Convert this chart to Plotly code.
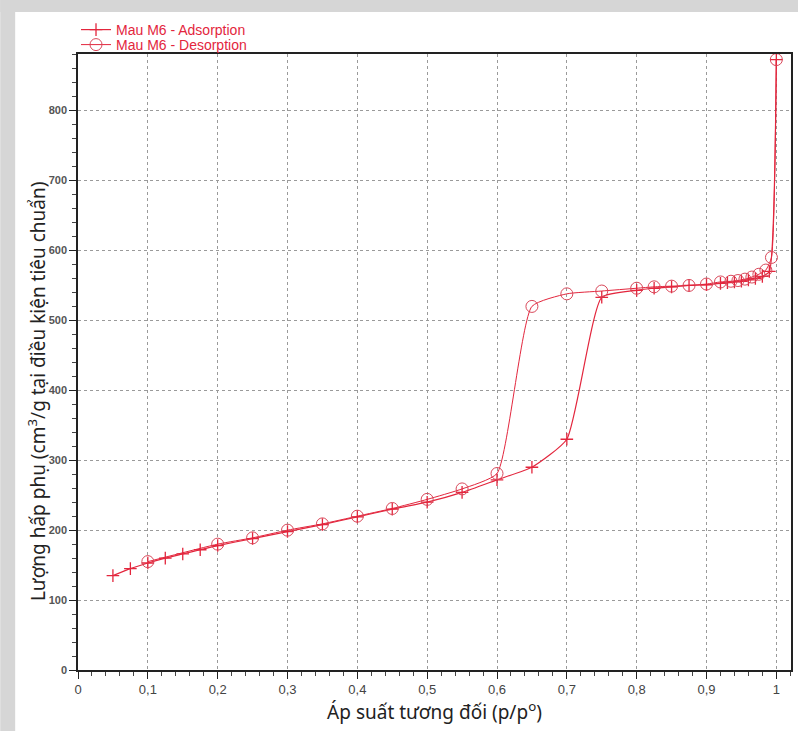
import plotly.graph_objects as go

# Nitrogen isotherm for sample M6: relative pressure vs. adsorbed volume
ads_p = [0.05, 0.075, 0.1, 0.125, 0.15, 0.175, 0.2, 0.25, 0.3, 0.35, 0.4, 0.45,
         0.5, 0.55, 0.6, 0.65, 0.7, 0.75, 0.8, 0.825, 0.85, 0.875, 0.9, 0.92,
         0.93, 0.94, 0.95, 0.96, 0.97, 0.98, 0.99, 1.0]
ads_v = [135, 145, 153, 160, 166, 172, 178, 188, 198, 208, 219, 230,
         240, 254, 272, 290, 330, 533, 543, 546, 548, 550, 551, 553,
         554, 555, 556, 558, 560, 563, 570, 873]

des_p = [0.1, 0.2, 0.25, 0.3, 0.35, 0.4, 0.45, 0.5, 0.55, 0.6, 0.65, 0.7,
         0.75, 0.8, 0.825, 0.85, 0.875, 0.9, 0.92, 0.935, 0.945, 0.955,
         0.965, 0.975, 0.985, 0.993, 1.0]
des_v = [155, 180, 189, 200, 209, 220, 231, 244, 259, 281, 520, 538,
         542, 546, 548, 549, 550, 552, 555, 556, 557, 559,
         562, 566, 572, 590, 873]

x_ticks = [0, 0.1, 0.2, 0.3, 0.4, 0.5, 0.6, 0.7, 0.8, 0.9, 1.0]
x_tick_text = ["0", "0,1", "0,2", "0,3", "0,4", "0,5", "0,6", "0,7", "0,8", "0,9", "1"]
y_ticks = [0, 100, 200, 300, 400, 500, 600, 700, 800]

RED = "#e3263d"
CIRCLE_RED = "#d9485a"

fig = go.Figure()
fig.add_trace(go.Scatter(
    x=ads_p, y=ads_v, name="Mau M6 - Adsorption", mode="lines+markers",
    legend="legend",
    line=dict(color=RED, width=1.2, shape="spline", smoothing=0.5),
    marker=dict(symbol="cross-thin-open", size=9, color=RED, line=dict(color=RED, width=1.3)),
))
fig.add_trace(go.Scatter(
    x=des_p, y=des_v, name="Mau M6 - Desorption", mode="lines+markers",
    legend="legend2",
    line=dict(color=RED, width=1.0, shape="spline", smoothing=0.5),
    marker=dict(symbol="circle-open", size=12, color=CIRCLE_RED,
                line=dict(color=CIRCLE_RED, width=1)),
))

L, R, T, B = 78, 7, 54, 61
W, H = 800, 731
pw, ph = W - L - R, H - T - B

def px_x(px):
    return (px - L) / pw

def px_y(py):
    return (H - B - py) / ph

# light grey frame along the left and top edges of the page
fig.add_shape(type="rect", xref="paper", yref="paper", layer="below",
              x0=px_x(0), x1=px_x(15), y0=px_y(H), y1=px_y(0),
              fillcolor="#d6d6d6", line_width=0)
fig.add_shape(type="rect", xref="paper", yref="paper", layer="below",
              x0=px_x(0), x1=px_x(W), y0=px_y(12), y1=px_y(0),
              fillcolor="#d6d6d6", line_width=0)

legend_font = dict(family="Arial, Liberation Sans", size=14, color=RED)
legend_common = dict(xanchor="left", yanchor="middle", bgcolor="rgba(0,0,0,0)",
                     font=legend_font, itemwidth=30, tracegroupgap=0,
                     borderwidth=0)

title_font = dict(family="Noto Sans, Open Sans", size=19, color="#222")

# vertical axis title, sitting slightly below the plot's middle
fig.add_annotation(
    text="Lượng hấp phụ (cm<sup>3</sup>/g tại điều kiện tiêu chuẩn)",
    xref="paper", yref="paper", x=px_x(37), y=px_y(391),
    xanchor="center", yanchor="middle", textangle=-90,
    showarrow=False, font=title_font,
)

fig.update_layout(
    width=W, height=H,
    margin=dict(l=L, r=R, t=T, b=B, pad=0),
    paper_bgcolor="white", plot_bgcolor="white",
    showlegend=True,
    legend=dict(x=px_x(76), y=px_y(30), **legend_common),
    legend2=dict(x=px_x(76), y=px_y(45), **legend_common),
    xaxis=dict(
        range=[0, 1.021], tickvals=x_ticks, ticktext=x_tick_text,
        showline=True, linecolor="#222", linewidth=1.5, mirror=True,
        ticks="outside", ticklen=7, tickcolor="#222", tickwidth=1.2,
        minor=dict(dtick=0.02, ticks="outside", ticklen=4, tickcolor="#444", showgrid=False),
        showgrid=True, gridcolor="#9a9a9a", griddash="dot", gridwidth=1,
        zeroline=False,
        tickfont=dict(family="Liberation Sans Narrow, Arial Narrow, Liberation Sans", size=13, color="#444"),
        title=dict(text="Áp suất tương đối (p/p<sup>o</sup>)", standoff=6, font=title_font),
    ),
    yaxis=dict(
        range=[0, 881], tickvals=y_ticks,
        showline=True, linecolor="#222", linewidth=1.5, mirror=True,
        ticks="outside", ticklen=7, tickcolor="#222", tickwidth=1.2,
        minor=dict(dtick=20, ticks="outside", ticklen=4, tickcolor="#444", showgrid=False),
        showgrid=True, gridcolor="#9a9a9a", griddash="dot", gridwidth=1,
        zeroline=False,
        tickfont=dict(family="Arial, Liberation Sans", size=11, color="#555", weight="bold"),
    ),
)

fig.write_html("out.html")
